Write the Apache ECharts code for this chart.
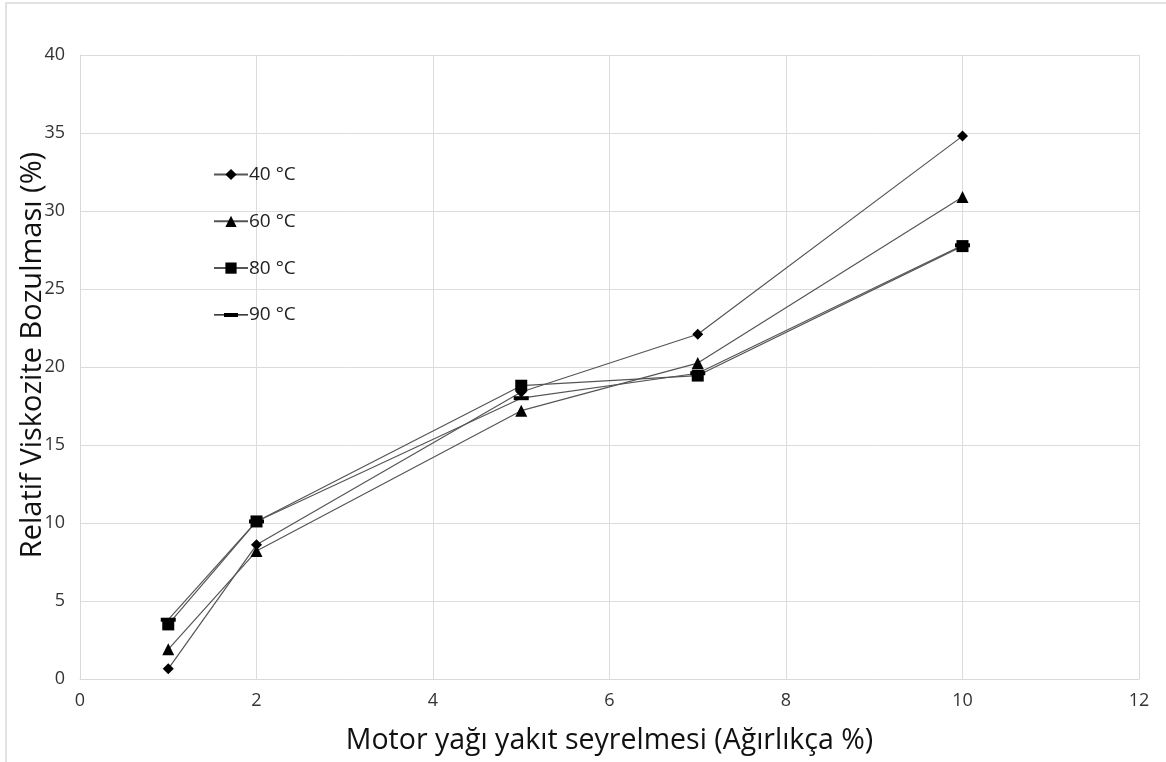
<!DOCTYPE html>
<html><head><meta charset="utf-8">
<script src="https://cdn.jsdelivr.net/npm/echarts@6/dist/echarts.min.js"></script>
<style>html,body{margin:0;padding:0;background:#fff}#c{width:1166px;height:762px}</style>
</head><body><div id="c"></div>
<script>
const xValues = [1, 2, 5, 7, 10];
const s40 = [0.65, 8.6, 18.4, 22.1, 34.8];
const s60 = [1.9, 8.2, 17.2, 20.25, 30.9];
const s80 = [3.5, 10.1, 18.8, 19.45, 27.75];
const s90 = [3.8, 10.1, 18.0, 19.6, 27.8];
const seriesNames = ['40 °C', '60 °C', '80 °C', '90 °C'];
const xTitle = 'Motor yağı yakıt seyrelmesi (Ağırlıkça %)';
const yTitle = 'Relatif Viskozite Bozulması (%)';

const font = '"Open Sans", "Noto Sans", sans-serif';
const pairs = a => xValues.map((x, i) => [x, a[i]]);
const mk = (name, data, symbol, size) => ({
  name, type: 'line', data: pairs(data), symbol, symbolSize: size,
  lineStyle: { color: '#555', width: 1.2 },
  itemStyle: { color: '#000' },
  emphasis: { disabled: true }, animation: false
});
// legend icon for the dash-marker series: line plus short thick bar
const dashIcon = 'path://M0,0 L0,0 Z M0,6.4 H34 V7.6 H0 Z M10,5 H24 V9 H10 Z M34,14 L34,14 Z';

const chart = echarts.init(document.getElementById('c'));
chart.setOption({
  animation: false,
  backgroundColor: '#fff',
  graphic: [{ type: 'rect', shape: { x: 6, y: 3, width: 1200, height: 800 },
    style: { fill: 'none', stroke: '#d9d9d9', lineWidth: 1.5 }, silent: true }],
  grid: { left: 80, right: 27, top: 55, bottom: 83, containLabel: false, outerBoundsMode: 'none' },
  legend: {
    orient: 'vertical', left: 208, top: 160, itemGap: 27.8, itemWidth: 34, itemHeight: 14,
    textStyle: { fontFamily: font, fontSize: 19, color: '#222', padding: [0, 0, 0, -4] },
    data: [seriesNames[0], seriesNames[1], seriesNames[2], { name: seriesNames[3], icon: dashIcon }]
  },
  xAxis: {
    type: 'value', min: 0, max: 12, interval: 2,
    name: xTitle, nameLocation: 'middle', nameGap: 47, nameMoveOverlap: false,
    nameTextStyle: { fontFamily: font, fontSize: 28.5, color: '#111' },
    axisLine: { show: true, lineStyle: { color: '#d9d9d9' } },
    axisTick: { show: false },
    axisLabel: { fontFamily: font, fontSize: 18, color: '#333', margin: 13 },
    splitLine: { show: true, lineStyle: { color: '#dcdcdc' } }
  },
  yAxis: {
    type: 'value', min: 0, max: 40, interval: 5,
    name: yTitle, nameLocation: 'middle', nameGap: 33, nameMoveOverlap: false,
    nameTextStyle: { fontFamily: font, fontSize: 29, color: '#111', padding: [0, 0, 0, 24] },
    axisLine: { show: true, lineStyle: { color: '#d9d9d9' } },
    axisTick: { show: false },
    axisLabel: { fontFamily: font, fontSize: 18, color: '#333', margin: 15 },
    splitLine: { show: true, lineStyle: { color: '#dcdcdc' } }
  },
  series: [
    mk(seriesNames[0], s40, 'diamond', 11),
    mk(seriesNames[1], s60, 'triangle', 12),
    mk(seriesNames[2], s80, 'rect', 12),
    mk(seriesNames[3], s90, 'rect', [15, 4])
  ]
});
</script></body></html>
